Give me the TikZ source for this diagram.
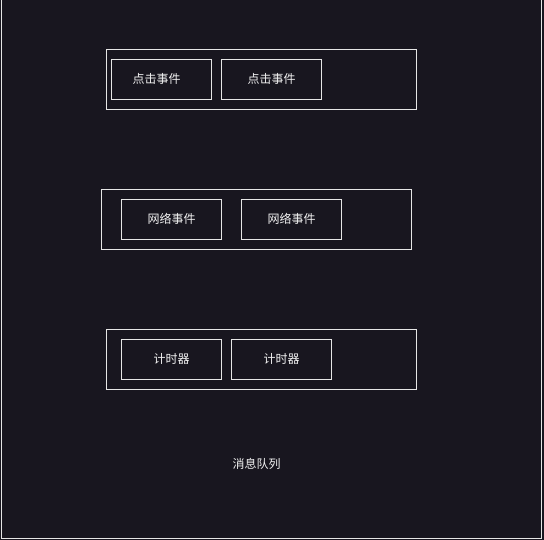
\documentclass[tikz,border=0pt]{standalone}
\usepackage{fontspec}
\newfontfamily\cjk{Noto Sans CJK SC}
\definecolor{bg}{HTML}{18161F}
\definecolor{ln}{HTML}{E6E6E6}
\definecolor{tx}{HTML}{F2F2F2}
\tikzset{
  grp/.style={draw=ln, line width=1pt, minimum width=310pt, minimum height=60pt, inner sep=0pt},
  evt/.style={draw=ln, line width=1pt, minimum width=100pt, minimum height=40pt, inner sep=0pt},
  lbl/.style={text=tx, font=\cjk\fontsize{12pt}{14pt}\selectfont, inner sep=0pt}
}
\begin{document}
\begin{tikzpicture}[x=1pt,y=-1pt]
\fill[bg] (0,0) rectangle (544,540);
\useasboundingbox (0,0) rectangle (544,540);
\draw[ln, line width=1pt] (1.5,0) -- (1.5,538.5) -- (541.5,538.5) -- (541.5,0);

% group 1
\node[grp] (g1) at (261.5,79.5) {};
\node[evt] (c1) at (161.5,79.5) {};
\node[lbl] (c1t) at (156.5,79) {点击事件};
\node[evt] (c2) at (271.5,79.5) {};
\node[lbl] (c2t) at (271.5,79) {点击事件};

% group 2
\node[grp] (g2) at (256.5,219.5) {};
\node[evt] (n1) at (171.5,219.5) {};
\node[lbl] (n1t) at (171.5,219) {网络事件};
\node[evt] (n2) at (291.5,219.5) {};
\node[lbl] (n2t) at (291.5,219) {网络事件};

% group 3
\node[grp] (g3) at (261.5,359.5) {};
\node[evt] (t1) at (171.5,359.5) {};
\node[lbl] (t1t) at (171.5,359) {计时器};
\node[evt] (t2) at (281.5,359.5) {};
\node[lbl] (t2t) at (281.5,359) {计时器};

\node[lbl] (mq) at (256.5,463.5) {消息队列};
\end{tikzpicture}
\end{document}
